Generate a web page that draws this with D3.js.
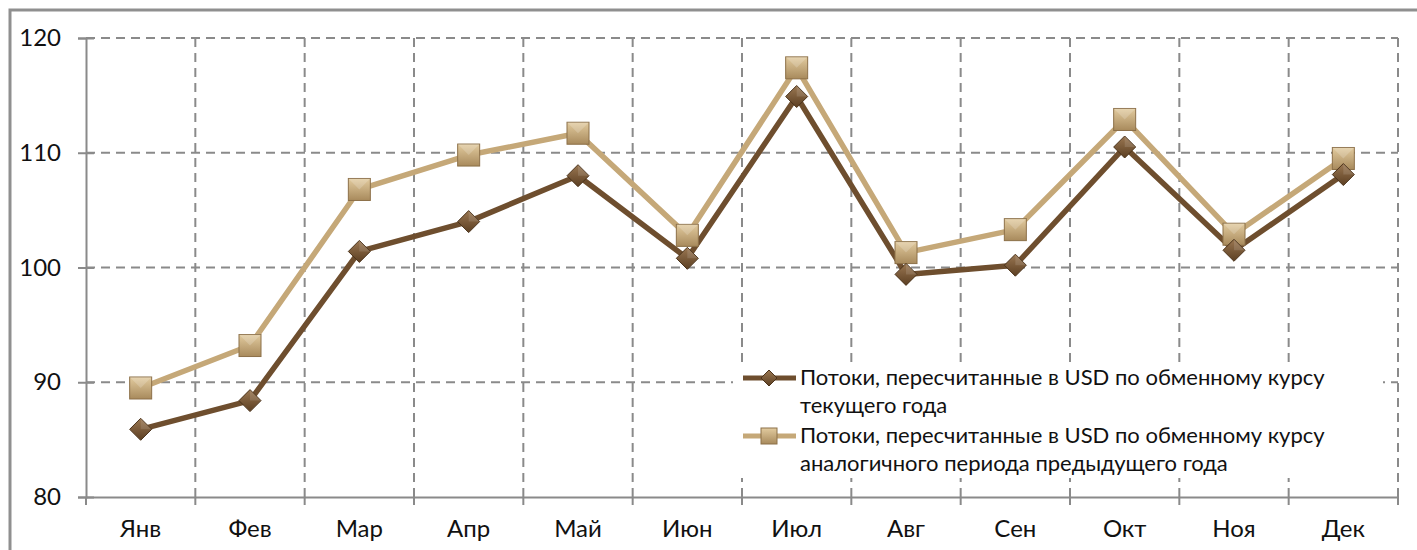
<!DOCTYPE html>
<html><head><meta charset="utf-8">
<script src="https://cdn.jsdelivr.net/npm/d3@7"></script>
<style>body{margin:0;background:#fff}svg{display:block}</style>
</head><body>
<svg id="c" width="1417" height="550"></svg>
<script>
const months = ["Янв","Фев","Мар","Апр","Май","Июн","Июл","Авг","Сен","Окт","Ноя","Дек"];
const current = [85.9, 88.4, 101.4, 104.0, 108.0, 100.8, 114.9, 99.4, 100.2, 110.5, 101.5, 108.1];
const previous = [89.5, 93.2, 106.8, 109.8, 111.7, 102.8, 117.4, 101.3, 103.3, 112.9, 102.9, 109.5];
const yTicks = [80, 90, 100, 110, 120];
const legendLabels = [
  ["Потоки, пересчитанные в USD по обменному курсу", "текущего года"],
  ["Потоки, пересчитанные в USD по обменному курсу", "аналогичного периода предыдущего года"]
];

const svg = d3.select("#c");
const font = "Lato, 'Open Sans', sans-serif";
const gridC = "#8a8a8a";
const x0 = 86, x1 = 1398, yTop = 38, yBot = 497;

svg.append("rect").attr("x",10).attr("y",10).attr("width",1420).attr("height",560)
  .attr("fill","none").attr("stroke","#8f8f8f").attr("stroke-width",3);

const x = d3.scaleBand().domain(months).range([x0, x1]).paddingInner(0).paddingOuter(0);
const y = d3.scaleLinear().domain([80, 120]).range([yBot, yTop]);

const defs = svg.append("defs");
function grad(id, c1, c2){
  const g = defs.append("linearGradient").attr("id",id).attr("x1","0").attr("y1","0").attr("x2","0").attr("y2","1");
  g.append("stop").attr("offset","0").attr("stop-color",c1);
  g.append("stop").attr("offset","1").attr("stop-color",c2);
}
grad("gDark","#9a7752","#5c3f22");
grad("gLight","#e2cb9f","#a88a5c");

// horizontal gridlines
svg.append("g").selectAll("line").data(yTicks.filter(t=>t>80)).join("line")
  .attr("x1",x0).attr("x2",x1).attr("y1",d=>y(d)).attr("y2",d=>y(d))
  .attr("stroke",gridC).attr("stroke-width",2).attr("stroke-dasharray","9,6");
// vertical gridlines
svg.append("g").selectAll("line").data(months).join("line")
  .attr("x1",d=>x(d)+x.bandwidth()).attr("x2",d=>x(d)+x.bandwidth())
  .attr("y1",yTop).attr("y2",yBot)
  .attr("stroke",gridC).attr("stroke-width",2).attr("stroke-dasharray","9,6");

// y axis
const yAxis = svg.append("g").attr("transform",`translate(${x0},0)`)
  .call(d3.axisLeft(y).tickValues(yTicks).tickSize(8).tickPadding(17));
yAxis.select(".domain").attr("stroke",gridC).attr("stroke-width",2);
yAxis.selectAll(".tick line").attr("stroke",gridC).attr("stroke-width",2).attr("x2",8).attr("x1",-8);
yAxis.selectAll("text").attr("font-family",font).attr("font-size",24).attr("fill","#111");

// x axis
const xAxis = svg.append("g").attr("transform",`translate(0,${yBot})`)
  .call(d3.axisBottom(x).tickSize(0).tickPadding(23));
xAxis.select(".domain").attr("stroke",gridC).attr("stroke-width",2);
xAxis.selectAll("text").attr("font-family",font).attr("font-size",24).attr("fill","#111");
svg.append("g").selectAll("line").data([x0].concat(months.map(m=>x(m)+x.bandwidth()))).join("line")
  .attr("x1",d=>d).attr("x2",d=>d).attr("y1",yBot).attr("y2",yBot+8)
  .attr("stroke",gridC).attr("stroke-width",2);

const cx = d => x(d)+x.bandwidth()/2;
const line = d3.line().x((d,i)=>cx(months[i])).y(d=>y(d));

const series = [
  {data: current, color:"#6e4e2e", fill:"url(#gDark)", stroke:"#4a321a", shape:"diamond"},
  {data: previous, color:"#c5a878", fill:"url(#gLight)", stroke:"#8c7048", shape:"square"}
];

function marker(g, s){
  if(s.shape==="diamond"){
    g.append("path").attr("d","M0,-11L11,0L0,11L-11,0Z").attr("fill",s.fill).attr("stroke",s.stroke).attr("stroke-width",1);
    g.append("path").attr("d","M0,-11L11,0L0,0Z").attr("fill","#fff").attr("opacity",0.12);
  } else {
    g.append("rect").attr("x",-11).attr("y",-11).attr("width",22).attr("height",22).attr("fill",s.fill).attr("stroke",s.stroke).attr("stroke-width",1);
    g.append("path").attr("d","M-11,-11L11,-11L0,0Z").attr("fill","#fff").attr("opacity",0.18);
  }
}

series.slice().reverse().forEach(s=>{
  svg.append("path").datum(s.data).attr("d",line).attr("fill","none")
    .attr("stroke",s.color).attr("stroke-width",5.5).attr("stroke-linejoin","round");
});
series.slice().reverse().forEach(s=>{
  s.data.forEach((v,i)=>{
    const g = svg.append("g").attr("transform",`translate(${cx(months[i])},${y(v)})`);
    marker(g,s);
  });
});

// legend
const lg = svg.append("g");
lg.append("rect").attr("x",733).attr("y",362).attr("width",650).attr("height",116).attr("fill","#fff");
const lrows = [378, 436];
series.forEach((s,i)=>{
  const yy = lrows[i];
  lg.append("line").attr("x1",743).attr("x2",796).attr("y1",yy).attr("y2",yy).attr("stroke",s.color).attr("stroke-width",5);
  const g = lg.append("g").attr("transform",`translate(769,${yy})`);
  if(s.shape==="diamond"){
    g.append("path").attr("d","M0,-8L8,0L0,8L-8,0Z").attr("fill",s.fill).attr("stroke",s.stroke);
  } else {
    g.append("rect").attr("x",-8).attr("y",-8).attr("width",16).attr("height",16).attr("fill",s.fill).attr("stroke",s.stroke);
  }
  legendLabels[i].forEach((t,j)=>{
    lg.append("text").attr("x",800).attr("y",yy+7+j*28).text(t)
      .attr("font-family",font).attr("font-size",22).attr("fill","#111");
  });
});
</script>
</body></html>
